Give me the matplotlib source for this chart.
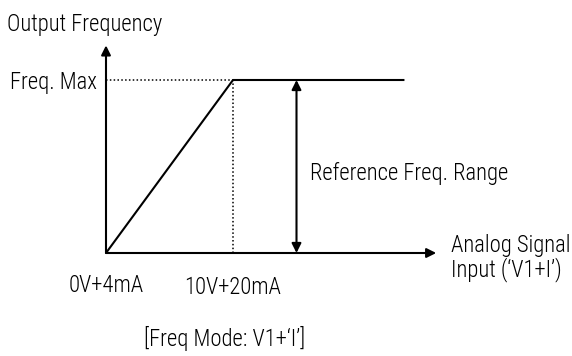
import matplotlib
matplotlib.use("Agg")
import matplotlib.pyplot as plt
from matplotlib import font_manager as fm

# data (schematic units: x in "volts-like" units, y relative to Freq. Max)
curve_x = [0, 10, 23.5]
curve_y = [0, 1, 1]
x_break = 10
freq_max = 1.0
x_axis_end = 26
y_axis_end = 1.2
range_x = 15

fonts = fm.fontManager.ttflist
def has_light(name):
    return any(f.name == name and f.style == 'normal' and isinstance(f.weight, int) and 250 <= f.weight <= 350
               for f in fonts)
available = set(f.name for f in fonts)
narrow = ["Liberation Sans Narrow", "Arial Narrow", "Roboto Condensed", "Archivo Narrow",
          "Pragati Narrow", "PT Sans Narrow", "Arimo", "Liberation Sans"]
light = [c for c in narrow if c in available and has_light(c)]
if light:
    chosen, weight = light[0], 'light'
else:
    chosen, weight = next(c for c in narrow if c in available), 'normal'
plt.rcParams['font.family'] = [chosen, "DejaVu Sans"]
plt.rcParams['font.weight'] = weight

fig = plt.figure(figsize=(5.72, 3.56), dpi=100)
ax = fig.add_axes([0, 0, 1, 1])
px = 12.7
py = 173.0
ax.set_xlim(-106 / px, (572 - 106) / px)
ax.set_ylim(-(356 - 253) / py, 253 / py)
ax.axis('off')

renderer = fig.canvas.get_renderer()
probe = fig.text(0, 0, 'Output Frequency', fontsize=10)
w10 = probe.get_window_extent(renderer).width
probe.remove()
fs = 10 * 155.0 / w10

ax.annotate('', xy=(x_axis_end, 0), xytext=(0, 0),
            arrowprops=dict(arrowstyle='-|>', lw=1.5, color='black',
                            mutation_scale=14, shrinkA=0, shrinkB=0))
ax.annotate('', xy=(0, y_axis_end), xytext=(0, 0),
            arrowprops=dict(arrowstyle='-|>', lw=1.5, color='black',
                            mutation_scale=14, shrinkA=0, shrinkB=0))
ax.plot(curve_x, curve_y, color='black', lw=1.5, solid_capstyle='butt')
ax.plot([0, x_break], [freq_max, freq_max], color='black', lw=1.1, ls=(0, (1, 1.5)))
ax.plot([x_break, x_break], [0, freq_max], color='black', lw=1.1, ls=(0, (1, 1.5)))
ax.annotate('', xy=(range_x, freq_max), xytext=(range_x, 0),
            arrowprops=dict(arrowstyle='<|-|>', lw=1.5, color='black',
                            mutation_scale=14, shrinkA=0, shrinkB=0))

def T(xp, yp, s, ha='left'):
    ax.text((xp - 106) / px, (253 - yp) / py, s, fontsize=fs, va='baseline', ha=ha)

T(7, 31, 'Output Frequency')
T(97, 89, 'Freq. Max', ha='right')
T(310, 180, 'Reference Freq. Range')
T(451, 252, 'Analog Signal')
T(451, 276, 'Input (\u2018V1+I\u2019)')
T(106, 292, '0V+4mA', ha='center')
T(233, 294, '10V+20mA', ha='center')
T(225, 346, '[Freq Mode: V1+\u2018I\u2019]', ha='center')

fig.savefig('out.png', dpi=100)
